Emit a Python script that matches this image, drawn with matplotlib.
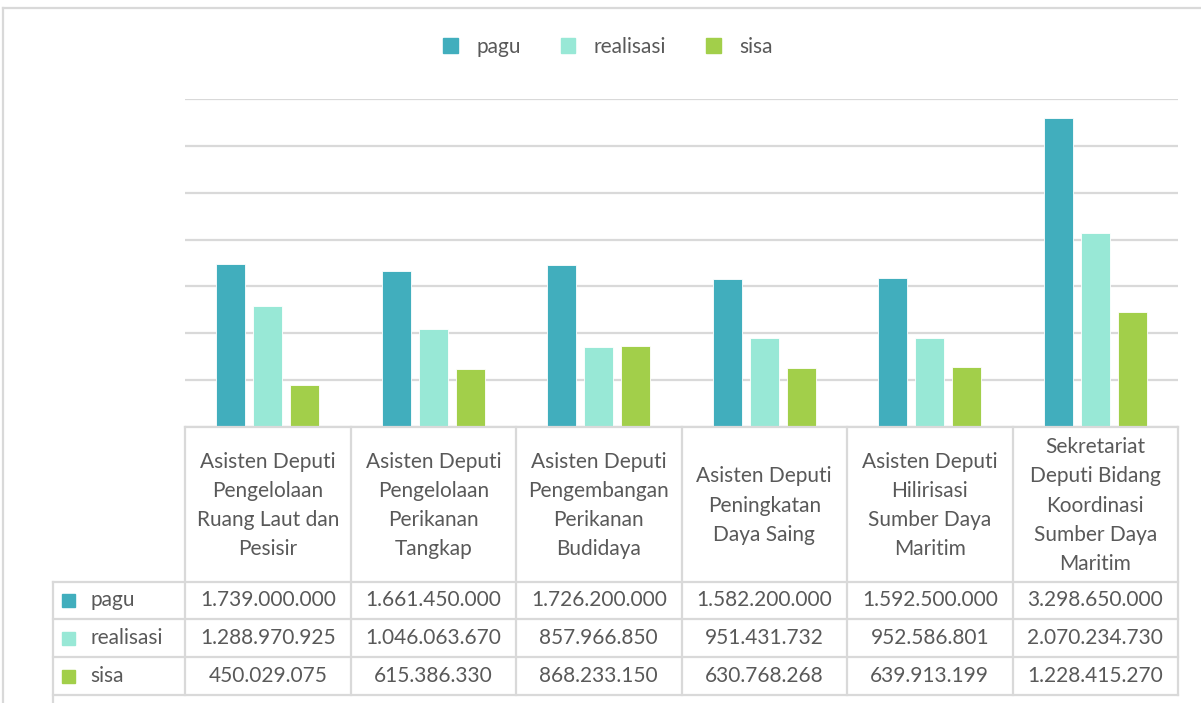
import matplotlib.pyplot as plt
import numpy as np

categories = [
    "Asisten Deputi\nPengelolaan\nRuang Laut dan\nPesisir",
    "Asisten Deputi\nPengelolaan\nPerikanan\nTangkap",
    "Asisten Deputi\nPengembangan\nPerikanan\nBudidaya",
    "Asisten Deputi\nPeningkatan\nDaya Saing",
    "Asisten Deputi\nHilirisasi\nSumber Daya\nMaritim",
    "Sekretariat\nDeputi Bidang\nKoordinasi\nSumber Daya\nMaritim",
]
series_names = ["pagu", "realisasi", "sisa"]
pagu = [1739000000, 1661450000, 1726200000, 1582200000, 1592500000, 3298650000]
realisasi = [1288970925, 1046063670, 857966850, 951431732, 952586801, 2070234730]
sisa = [450029075, 615386330, 868233150, 630768268, 639913199, 1228415270]
colors = ["#41AEBD", "#98E8D6", "#A2CF4A"]

plt.rcParams["font.family"] = ["Lato", "DejaVu Sans"]
TXT = "#595959"
GRID = "#D9D9D9"

W, H = 1201, 703
fig = plt.figure(figsize=(W / 100, H / 100), dpi=100)


def fx(x):
    return x / W


def fy(y):
    return 1 - y / H


def hline(y, x0, x1):
    fig.add_artist(plt.Line2D([fx(x0), fx(x1)], [fy(y), fy(y)], color=GRID, lw=1.6))


def vline(x, y0, y1):
    fig.add_artist(plt.Line2D([fx(x), fx(x)], [fy(y0), fy(y1)], color=GRID, lw=1.6))


# plot area
left, right, top, base = 185, 1178, 99, 427
ax = fig.add_axes([fx(left), fy(base), fx(right - left), (base - top) / H])
x = np.arange(len(categories))
bw = 0.175
step = 0.2236
for i, vals in enumerate([pagu, realisasi, sisa]):
    ax.bar(x + (i - 1) * step, vals, width=bw, color=colors[i],
           edgecolor="white", linewidth=0.6, zorder=3)
ax.set_xlim(-0.5, len(categories) - 0.5)
ax.set_ylim(0, 3.5e9)
ax.set_yticks(np.arange(0, 3.5e9 + 1, 5e8))
ax.yaxis.grid(True, color=GRID, lw=1.6, zorder=0)
ax.set_xticks([])
ax.tick_params(left=False, labelleft=False)
for s in ax.spines.values():
    s.set_visible(False)

# outer chart border
hline(8, 3, W)
vline(3, 8, H)

# data table
col_w = (right - left) / len(categories)
row_y = [582, 619, 657, 695]
for i in range(len(categories) + 1):
    vline(left + i * col_w, base, row_y[-1])
vline(53, row_y[0], H)
hline(base, left, right)
for y in row_y:
    hline(y, 53, right)

for i, cat in enumerate(categories):
    cx = left + (i + 0.5) * col_w
    fig.text(fx(cx), fy((base + row_y[0]) / 2 + 1), cat, ha="center", va="center",
             fontsize=15, color=TXT, linespacing=1.58)


def fmt(v):
    return f"{v:,}".replace(",", ".")


for r, (name, vals) in enumerate(zip(series_names, [pagu, realisasi, sisa])):
    cy = (row_y[r] + row_y[r + 1]) / 2
    fig.patches.append(plt.Rectangle((fx(62), fy(cy + 6.5)), 13 / W, 13 / H,
                                     transform=fig.transFigure, color=colors[r]))
    fig.text(fx(90), fy(cy), name, ha="left", va="center", fontsize=15, color=TXT)
    for i, v in enumerate(vals):
        cx = left + (i + 0.5) * col_w
        fig.text(fx(cx), fy(cy), fmt(v), ha="center", va="center",
                 fontsize=15, color=TXT)

# legend
handles = [plt.Rectangle((0, 0), 1, 1, color=c) for c in colors]
fig.legend(handles, series_names, loc="center", bbox_to_anchor=(fx(608), fy(47)),
           ncol=3, frameon=False, fontsize=15, labelcolor=TXT,
           handlelength=0.7, handleheight=0.7, columnspacing=1.9, handletextpad=0.9)

fig.savefig("out.png", dpi=100)
